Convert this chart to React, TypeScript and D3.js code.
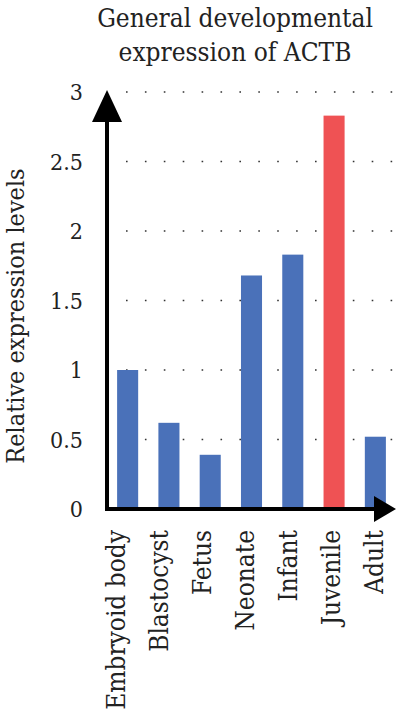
import { useEffect, useRef } from 'react'
import * as d3 from "d3"

const stages = ["Embryoid body", "Blastocyst", "Fetus", "Neonate", "Infant", "Juvenile", "Adult"]
const expression = [1.0, 0.62, 0.39, 1.68, 1.83, 2.83, 0.52]
const highlight = ["Juvenile"]
const yTicks = [0, 0.5, 1, 1.5, 2, 2.5, 3]
const titleLines = ["General developmental", "expression of ACTB"]

export default function App() {
  const ref = useRef(null)
  const width = 396
  const height = 716
  const font = "DejaVu Serif Condensed, DejaVu Serif, serif"

  useEffect(() => {
    const svg = d3.select(ref.current)
    svg.selectAll("*").remove()
    svg.style("font-stretch", "condensed")

    const x = d3.scaleBand().domain(stages).range([107, 396]).paddingInner(0.49).paddingOuter(0.245)
    // category labels sit on a slightly wider spacing than the bars
    const xLabel = d3.scalePoint().domain(stages).range([117, 375])
    const y = d3.scaleLinear().domain([0, 3]).range([509, 92])

    // title
    svg.append("g").selectAll("text")
      .data(titleLines)
      .join("text")
      .attr("x", 235)
      .attr("y", (d, i) => 27 + i * 34)
      .attr("text-anchor", "middle")
      .attr("font-family", font)
      .attr("font-size", 26)
      .attr("fill", "#222")
      .text(d => d)

    // dotted grid
    svg.append("g").selectAll("line")
      .data(yTicks.filter(t => t > 0))
      .join("line")
      .attr("x1", 126)
      .attr("x2", width)
      .attr("y1", d => y(d))
      .attr("y2", d => y(d))
      .attr("stroke", "#333")
      .attr("stroke-width", 1.6)
      .attr("stroke-dasharray", "1.6 17.3")

    // bars
    svg.append("g").selectAll("rect")
      .data(stages)
      .join("rect")
      .attr("x", d => x(d))
      .attr("width", x.bandwidth())
      .attr("y", (d, i) => y(expression[i]))
      .attr("height", (d, i) => y(0) - y(expression[i]))
      .attr("fill", d => highlight.includes(d) ? "#ef5254" : "#4a71b9")

    // y tick labels
    svg.append("g").selectAll("text")
      .data(yTicks)
      .join("text")
      .attr("x", 83)
      .attr("y", d => y(d))
      .attr("dy", "0.36em")
      .attr("text-anchor", "end")
      .attr("font-family", font)
      .attr("font-size", 23)
      .attr("fill", "#222")
      .text(d => d3.format("")(d))

    // y axis title
    svg.append("text")
      .attr("transform", "translate(24,316) rotate(-90)")
      .attr("text-anchor", "middle")
      .attr("font-family", font)
      .attr("font-size", 25)
      .attr("fill", "#222")
      .text("Relative expression levels")

    // x labels
    svg.append("g").selectAll("text")
      .data(stages)
      .join("text")
      .attr("transform", d => `translate(${xLabel(d)},530) rotate(-90)`)
      .attr("dy", "0.3em")
      .attr("text-anchor", "end")
      .attr("font-family", font)
      .attr("font-size", 26)
      .attr("fill", "#222")
      .text(d => d)

    // axes with arrows
    svg.append("line")
      .attr("x1", 107).attr("x2", 107)
      .attr("y1", 511).attr("y2", 118)
      .attr("stroke", "#000").attr("stroke-width", 4)
    svg.append("line")
      .attr("x1", 105).attr("x2", 378)
      .attr("y1", 509).attr("y2", 509)
      .attr("stroke", "#000").attr("stroke-width", 4)
    svg.append("path")
      .attr("d", "M107,90 L122,122 L92,122 Z")
      .attr("fill", "#000")
    svg.append("path")
      .attr("d", "M396,509 L374,522 L374,496 Z")
      .attr("fill", "#000")
  }, [])

  return (
    <svg ref={ref} width={width} height={height}
      style={{ position: 'absolute', left: 0, top: 0, background: '#fff' }} />
  )
}
